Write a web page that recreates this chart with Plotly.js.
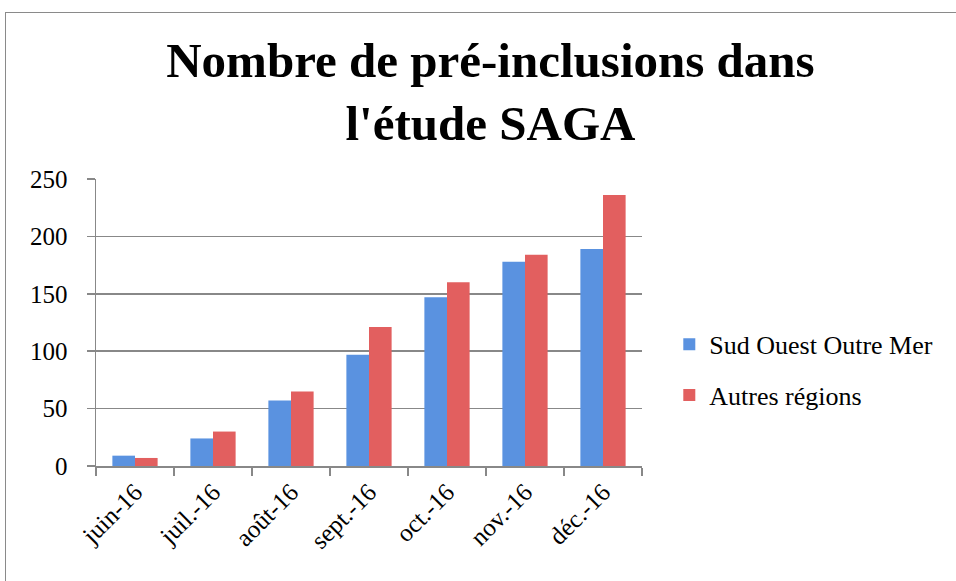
<!DOCTYPE html>
<html><head><meta charset="utf-8">
<script src="https://cdn.plot.ly/plotly-3.0.1.min.js"></script>
<style>
html,body{margin:0;padding:0;background:#fff;overflow:hidden}
#frame{position:absolute;left:5px;top:12px;width:1000px;height:620px;border:1.5px solid #8a8a8a;box-sizing:border-box}
#chart{position:absolute;left:0;top:0;width:956px;height:581px}
</style></head>
<body>
<div id="frame"></div>
<div id="chart"></div>
<script>
const months = ["juin-16","juil.-16","août-16","sept.-16","oct.-16","nov.-16","déc.-16"];
const sudOuest = [9, 24, 57, 97, 147, 178, 189];
const autres = [7, 30, 65, 121, 160, 184, 236];
const seriesNames = ["Sud Ouest Outre Mer", "Autres régions"];
const yTicks = [0, 50, 100, 150, 200, 250];

const font = "Liberation Serif, serif";
const traces = [
  {type:"bar", x:months, y:sudOuest, name:seriesNames[0], legendgroup:"a",
   marker:{color:"#5a92e0"}},
  {type:"bar", x:months, y:autres, name:seriesNames[1], legendgroup:"b",
   marker:{color:"#e25f5f"}}
];
const layout = {
  width:956, height:581,
  paper_bgcolor:"rgba(0,0,0,0)", plot_bgcolor:"rgba(0,0,0,0)",
  margin:{l:96, r:314, t:179, b:115},
  font:{family:font, size:25, color:"#000"},
  title:{text:"<b>Nombre de pré-inclusions dans<br>l'étude SAGA</b>",
    font:{family:font, size:49, color:"#000"},
    x:0.513, xanchor:"center", y:0.868, yanchor:"middle"},
  bargap:0.42, bargroupgap:0,
  xaxis:{tickangle:-45, showline:true, linecolor:"#888", linewidth:1.5,
    ticks:"outside", ticklen:8, tickcolor:"#888", tickwidth:1.5,
    tickson:"boundaries", showgrid:false, tickfont:{size:25}},
  yaxis:{range:[0,250], tickvals:yTicks, showline:true, linecolor:"#888", linewidth:1.5,
    ticks:"outside", ticklen:8, tickcolor:"#888", tickwidth:1.5,
    showgrid:true, gridcolor:"#888", gridwidth:1.5, zeroline:false,
    tickfont:{size:25}, ticklabelstandoff:14},
  legend:{x:1.05, xanchor:"left", y:0.335, yanchor:"middle", traceorder:"grouped",
    tracegroupgap:14, font:{size:26}, itemwidth:30},
  showlegend:true
};
Plotly.newPlot("chart", traces, layout, {displayModeBar:false, staticPlot:true});
</script>
</body></html>
